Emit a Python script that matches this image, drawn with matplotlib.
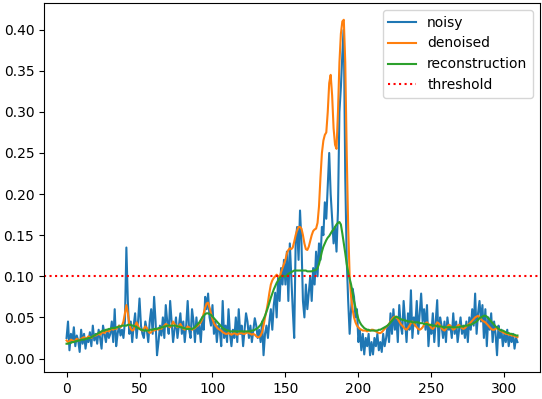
import numpy as np
import matplotlib
matplotlib.use('Agg')
import matplotlib.pyplot as plt

# values, one per sample (x = 0..309)
noisy = [
    0.025, 0.045, 0.010, 0.030, 0.020, 0.038, 0.015, 0.028, 0.022, 0.008,
    0.035, 0.018, 0.030, 0.012, 0.025, 0.020, 0.032, 0.015, 0.040, 0.022,
    0.030, 0.018, 0.035, 0.025, 0.012, 0.040, 0.030, 0.020, 0.035, 0.025,
    0.030, 0.045, 0.020, 0.060, 0.015, 0.030, 0.040, 0.028, 0.035, 0.025,
    0.045, 0.135, 0.070, 0.030, 0.045, 0.020, 0.040, 0.055, 0.025, 0.045,
    0.073, 0.040, 0.030, 0.025, 0.045, 0.035, 0.020, 0.045, 0.060, 0.030,
    0.075, 0.045, 0.004, 0.020, 0.040, 0.028, 0.050, 0.025, 0.065, 0.045,
    0.030, 0.070, 0.045, 0.020, 0.035, 0.050, 0.025, 0.040, 0.055, 0.030,
    0.045, 0.020, 0.040, 0.070, 0.035, 0.025, 0.060, 0.045, 0.020, 0.050,
    0.030, 0.040, 0.020, 0.050, 0.035, 0.075, 0.060, 0.079, 0.050, 0.040,
    0.065, 0.030, 0.045, 0.020, 0.040, 0.035, 0.015, 0.070, 0.025, 0.040,
    0.020, 0.060, 0.030, 0.015, 0.035, 0.025, 0.050, 0.020, 0.060, 0.030,
    0.040, 0.015, 0.035, 0.055, 0.045, 0.025, 0.040, 0.020, 0.035, 0.049,
    0.040, 0.025, 0.035, 0.020, 0.045, 0.004, 0.030, 0.040, 0.025, 0.045,
    0.060, 0.035, 0.065, 0.080, 0.050, 0.100, 0.070, 0.110, 0.090, 0.120,
    0.090, 0.130, 0.070, 0.140, 0.100, 0.060, 0.025, 0.140, 0.160, 0.120,
    0.180, 0.140, 0.070, 0.050, 0.090, 0.060, 0.080, 0.100, 0.070, 0.110,
    0.090, 0.130, 0.100, 0.140, 0.120, 0.160, 0.150, 0.190, 0.170, 0.210,
    0.250, 0.200, 0.170, 0.140, 0.160, 0.130, 0.180, 0.300, 0.330, 0.370,
    0.400, 0.220, 0.120, 0.070, 0.030, 0.060, 0.085, 0.075, 0.050, 0.060,
    0.020, 0.035, 0.010, 0.030, 0.005, 0.025, 0.015, 0.030, 0.004, 0.020,
    0.005, 0.025, 0.015, 0.030, 0.010, 0.020, 0.008, 0.030, 0.015, 0.025,
    0.040, 0.020, 0.055, 0.030, 0.060, 0.035, 0.050, 0.020, 0.065, 0.040,
    0.030, 0.070, 0.045, 0.020, 0.055, 0.035, 0.083, 0.025, 0.050, 0.040,
    0.070, 0.030, 0.055, 0.079, 0.045, 0.060, 0.035, 0.065, 0.015, 0.040,
    0.030, 0.055, 0.020, 0.045, 0.071, 0.015, 0.050, 0.040, 0.025, 0.045,
    0.020, 0.050, 0.035, 0.040, 0.025, 0.055, 0.030, 0.045, 0.020, 0.035,
    0.050, 0.030, 0.040, 0.025, 0.045, 0.020, 0.050, 0.035, 0.060, 0.040,
    0.079, 0.030, 0.055, 0.070, 0.045, 0.065, 0.025, 0.060, 0.015, 0.050,
    0.035, 0.055, 0.020, 0.045, 0.030, 0.004, 0.040, 0.025, 0.035, 0.015,
    0.030, 0.020, 0.035, 0.015, 0.028, 0.020, 0.030, 0.012, 0.025, 0.020,
]

denoised = [
    0.022, 0.020, 0.021, 0.023, 0.022, 0.021, 0.022, 0.024, 0.023, 0.022,
    0.024, 0.025, 0.026, 0.024, 0.025, 0.027, 0.026, 0.025, 0.027, 0.028,
    0.028, 0.029, 0.030, 0.029, 0.031, 0.032, 0.031, 0.033, 0.034, 0.033,
    0.035, 0.036, 0.035, 0.037, 0.036, 0.038, 0.040, 0.038, 0.040, 0.045,
    0.055, 0.065, 0.055, 0.042, 0.036, 0.034, 0.035, 0.040, 0.044, 0.040,
    0.036, 0.035, 0.034, 0.036, 0.039, 0.037, 0.033, 0.031, 0.032, 0.035,
    0.034, 0.035, 0.036, 0.035, 0.037, 0.036, 0.038, 0.040, 0.042, 0.041,
    0.039, 0.038, 0.040, 0.045, 0.042, 0.040, 0.038, 0.040, 0.042, 0.039,
    0.036, 0.035, 0.037, 0.039, 0.038, 0.036, 0.035, 0.036, 0.037, 0.039,
    0.040, 0.042, 0.044, 0.048, 0.055, 0.062, 0.067, 0.068, 0.062, 0.055,
    0.048, 0.043, 0.040, 0.038, 0.036, 0.035, 0.034, 0.032, 0.031, 0.030,
    0.030, 0.031, 0.030, 0.029, 0.030, 0.031, 0.030, 0.029, 0.030, 0.031,
    0.031, 0.030, 0.030, 0.031, 0.032, 0.031, 0.030, 0.029, 0.030, 0.029,
    0.027, 0.026, 0.026, 0.028, 0.032, 0.040, 0.050, 0.058, 0.068, 0.080,
    0.090, 0.095, 0.098, 0.100, 0.102, 0.100, 0.098, 0.105, 0.110, 0.115,
    0.120, 0.128, 0.132, 0.134, 0.133, 0.135, 0.142, 0.150, 0.156, 0.160,
    0.160, 0.158, 0.150, 0.140, 0.133, 0.132, 0.136, 0.143, 0.150, 0.155,
    0.157, 0.158, 0.165, 0.185, 0.220, 0.250, 0.265, 0.272, 0.275, 0.300,
    0.335, 0.345, 0.320, 0.280, 0.260, 0.255, 0.300, 0.360, 0.395, 0.410,
    0.412, 0.360, 0.250, 0.160, 0.100, 0.075, 0.060, 0.050, 0.044, 0.040,
    0.038, 0.036, 0.035, 0.034, 0.034, 0.034, 0.033, 0.034, 0.034, 0.035,
    0.035, 0.034, 0.033, 0.032, 0.031, 0.031, 0.032, 0.034, 0.036, 0.038,
    0.040, 0.042, 0.045, 0.048, 0.050, 0.051, 0.050, 0.048, 0.045, 0.042,
    0.040, 0.038, 0.036, 0.035, 0.037, 0.040, 0.043, 0.045, 0.043, 0.040,
    0.038, 0.036, 0.035, 0.036, 0.038, 0.041, 0.043, 0.044, 0.042, 0.040,
    0.037, 0.036, 0.038, 0.041, 0.044, 0.043, 0.040, 0.037, 0.035, 0.034,
    0.036, 0.039, 0.041, 0.040, 0.037, 0.035, 0.036, 0.038, 0.040, 0.041,
    0.039, 0.037, 0.036, 0.037, 0.039, 0.041, 0.042, 0.044, 0.046, 0.048,
    0.050, 0.051, 0.052, 0.050, 0.048, 0.046, 0.045, 0.044, 0.042, 0.040,
    0.038, 0.036, 0.035, 0.035, 0.036, 0.037, 0.036, 0.034, 0.033, 0.032,
    0.031, 0.030, 0.030, 0.029, 0.029, 0.028, 0.028, 0.027, 0.027, 0.026,
]

reconstruction = [
    0.018, 0.018, 0.019, 0.019, 0.020, 0.020, 0.021, 0.021, 0.022, 0.022,
    0.023, 0.023, 0.023, 0.024, 0.024, 0.025, 0.025, 0.026, 0.027, 0.028,
    0.029, 0.030, 0.031, 0.032, 0.033, 0.034, 0.034, 0.035, 0.035, 0.036,
    0.036, 0.037, 0.037, 0.037, 0.038, 0.038, 0.039, 0.039, 0.040, 0.040,
    0.040, 0.040, 0.041, 0.041, 0.041, 0.040, 0.040, 0.039, 0.038, 0.037,
    0.036, 0.035, 0.035, 0.034, 0.034, 0.034, 0.034, 0.035, 0.035, 0.035,
    0.036, 0.036, 0.036, 0.037, 0.037, 0.038, 0.038, 0.039, 0.039, 0.040,
    0.040, 0.040, 0.040, 0.040, 0.040, 0.040, 0.039, 0.039, 0.038, 0.038,
    0.037, 0.037, 0.036, 0.036, 0.036, 0.036, 0.036, 0.037, 0.038, 0.040,
    0.042, 0.044, 0.047, 0.050, 0.052, 0.054, 0.055, 0.055, 0.054, 0.053,
    0.051, 0.049, 0.047, 0.045, 0.043, 0.041, 0.039, 0.037, 0.036, 0.035,
    0.034, 0.034, 0.033, 0.033, 0.033, 0.033, 0.033, 0.033, 0.033, 0.033,
    0.033, 0.033, 0.033, 0.033, 0.033, 0.033, 0.033, 0.034, 0.034, 0.035,
    0.036, 0.037, 0.039, 0.041, 0.044, 0.048, 0.052, 0.057, 0.062, 0.068,
    0.074, 0.079, 0.084, 0.088, 0.092, 0.095, 0.098, 0.100, 0.101, 0.100,
    0.100, 0.101, 0.103, 0.104, 0.105, 0.106, 0.107, 0.107, 0.107, 0.107,
    0.107, 0.107, 0.107, 0.107, 0.107, 0.106, 0.106, 0.106, 0.106, 0.107,
    0.107, 0.108, 0.110, 0.115, 0.122, 0.130, 0.136, 0.140, 0.144, 0.147,
    0.149, 0.152, 0.155, 0.157, 0.160, 0.163, 0.165, 0.166, 0.163, 0.152,
    0.140, 0.128, 0.115, 0.105, 0.097, 0.090, 0.080, 0.070, 0.062, 0.055,
    0.048, 0.044, 0.041, 0.039, 0.037, 0.036, 0.035, 0.035, 0.034, 0.034,
    0.034, 0.034, 0.034, 0.034, 0.035, 0.035, 0.036, 0.037, 0.038, 0.039,
    0.040, 0.042, 0.044, 0.046, 0.048, 0.050, 0.051, 0.050, 0.049, 0.048,
    0.047, 0.047, 0.046, 0.046, 0.045, 0.045, 0.045, 0.044, 0.044, 0.044,
    0.044, 0.044, 0.043, 0.043, 0.043, 0.042, 0.042, 0.042, 0.041, 0.041,
    0.041, 0.040, 0.040, 0.040, 0.039, 0.039, 0.039, 0.039, 0.038, 0.038,
    0.038, 0.038, 0.038, 0.038, 0.038, 0.038, 0.038, 0.038, 0.038, 0.038,
    0.039, 0.039, 0.039, 0.040, 0.040, 0.040, 0.041, 0.041, 0.042, 0.043,
    0.044, 0.045, 0.047, 0.049, 0.050, 0.051, 0.052, 0.052, 0.051, 0.049,
    0.047, 0.045, 0.043, 0.041, 0.039, 0.038, 0.036, 0.035, 0.034, 0.034,
    0.033, 0.032, 0.031, 0.031, 0.030, 0.030, 0.029, 0.029, 0.028, 0.028,
]

threshold = 0.1

fig, ax = plt.subplots(figsize=(5.42, 3.99), dpi=100)
fig.subplots_adjust(left=44 / 542, right=540 / 542, bottom=27 / 399, top=396 / 399)

ax.plot(noisy, label='noisy')
ax.plot(denoised, label='denoised')
ax.plot(reconstruction, label='reconstruction')
ax.axhline(threshold, color='r', linestyle=':', label='threshold')
ax.legend(loc='upper right')

fig.savefig('out.png', dpi=100)
